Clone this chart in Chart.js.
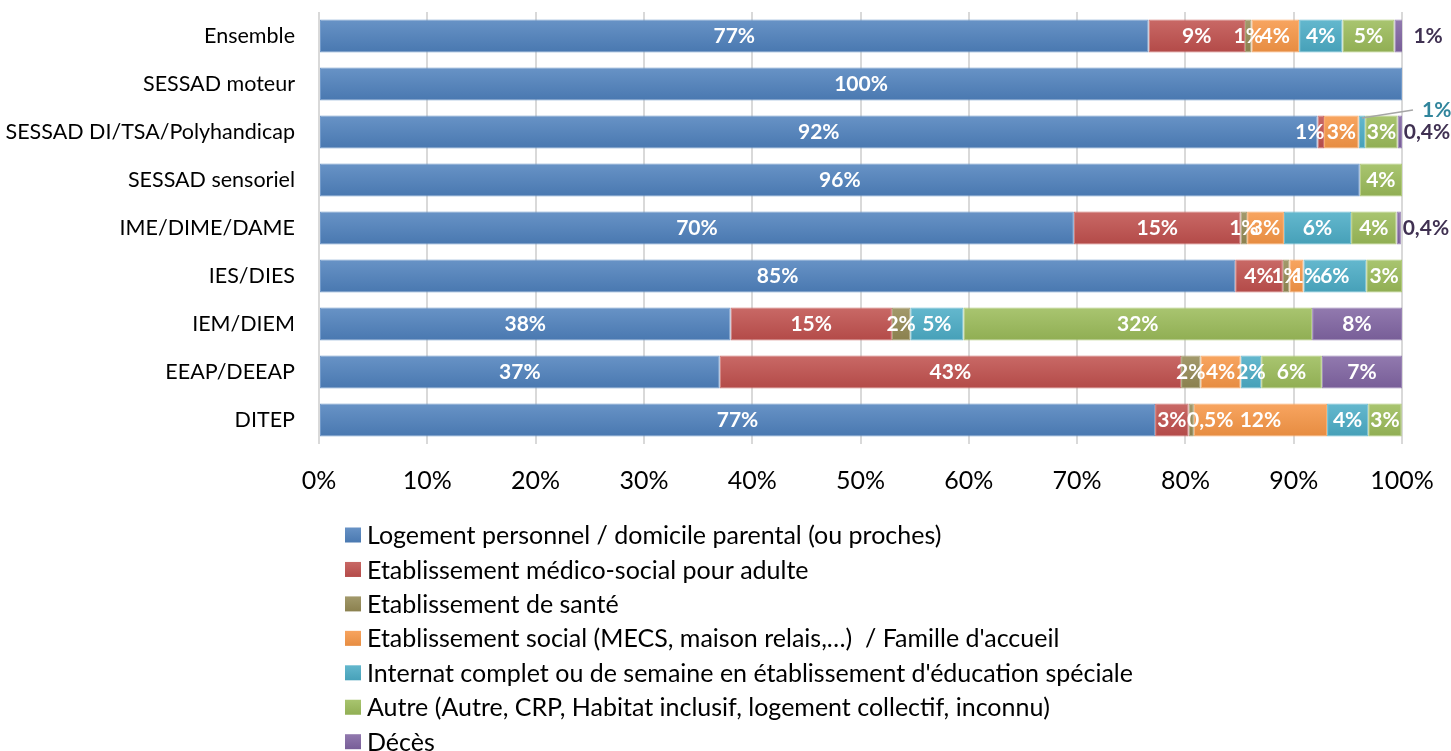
<!DOCTYPE html>
<html lang="fr">
<head>
<meta charset="utf-8">
<title>Mode de logement à la sortie</title>
<script src="https://cdn.jsdelivr.net/npm/chart.js@4.4.1/dist/chart.umd.min.js"></script>
<style>
  html, body { margin: 0; padding: 0; background: #fff; }
  #wrap { position: relative; width: 1451px; height: 751px; }
</style>
</head>
<body>
<div id="wrap"><canvas id="mainChart" width="1451" height="751"></canvas></div>
<script>
const categories = ['Ensemble', 'SESSAD moteur', 'SESSAD DI/TSA/Polyhandicap', 'SESSAD sensoriel',
    'IME/DIME/DAME', 'IES/DIES', 'IEM/DIEM', 'EEAP/DEEAP', 'DITEP'];

const seriesNames = [
    'Logement personnel / domicile parental (ou proches)',
    'Etablissement médico-social pour adulte',
    'Etablissement de santé',
    "Etablissement social (MECS, maison relais,…)  / Famille d'accueil",
    "Internat complet ou de semaine en établissement d'éducation spéciale",
    'Autre (Autre, CRP, Habitat inclusif, logement collectif, inconnu)',
    'Décès'
];
const seriesColors = ['#4f81bd', '#c0504d', '#948a54', '#f79646', '#4bacc6', '#9bbb59', '#8064a2'];

// % par catégorie, dans l'ordre de categories
const logement     = [76.6, 100, 92.2, 96.1, 69.7, 84.6, 38.0, 37.0, 77.2];
const medicoSocial = [8.9, 0, 0.6, 0, 15.4, 4.4, 14.9, 42.6, 3.1];
const sante        = [0.6, 0, 0, 0, 0.6, 0.6, 1.7, 1.8, 0.48];
const social       = [4.4, 0, 3.2, 0, 3.4, 1.3, 0, 3.7, 12.3];
const internat     = [4.0, 0, 0.6, 0, 6.2, 5.8, 4.9, 1.9, 3.8];
const autre        = [4.8, 0, 3.0, 3.9, 4.2, 3.3, 32.2, 5.6, 3.1];
const deces        = [0.8, 0, 0.4, 0, 0.4, 0, 8.3, 7.4, 0];

const seriesValues = [logement, medicoSocial, sante, social, internat, autre, deces];

// label placement tweaks (like the hand-moved labels in the original)
const callouts = [{ dataset: 4, index: 2 }];
const labelNudges = [
    { dataset: 1, index: 2, dx: -11 },
    { dataset: 3, index: 5, dx: 10 },
    { dataset: 2, index: 8, dx: 19 }
];

const BAR_PCT = 0.687;
const FONT = 'Lato, "Open Sans", sans-serif';

function shade(hex, p) {
    const n = parseInt(hex.slice(1), 16);
    let r = n >> 16, g = (n >> 8) & 255, b = n & 255;
    const f = c => p >= 0 ? Math.round(c + (255 - c) * p) : Math.round(c * (1 + p));
    return `rgb(${f(r)},${f(g)},${f(b)})`;
}

function barFill(base) {
    return c => {
        const ys = c.chart.scales.y;
        if (!ys || c.type !== 'data') return base;
        const yc = ys.getPixelForValue(c.dataIndex);
        const step = ys.getPixelForValue(1) - ys.getPixelForValue(0);
        if (!isFinite(yc) || !isFinite(step) || step <= 0) return base;
        const h = step * BAR_PCT / 2;
        const g = c.chart.ctx.createLinearGradient(0, yc - h, 0, yc + h);
        g.addColorStop(0, shade(base, 0.14));
        g.addColorStop(1, shade(base, -0.07));
        return g;
    };
}

function fmt(v) {
    if (v < 0.5) return v.toFixed(1).replace('.', ',') + '%';
    return Math.round(v) + '%';
}

const segmentLabels = {
    id: 'segmentLabels',
    afterDatasetsDraw(chart) {
        const ctx = chart.ctx;
        const last = chart.data.datasets.length - 1;
        ctx.save();
        ctx.font = 'bold 21px ' + FONT;
        ctx.textBaseline = 'middle';
        chart.data.datasets.forEach((ds, di) => {
            const meta = chart.getDatasetMeta(di);
            meta.data.forEach((bar, i) => {
                const v = ds.data[i];
                if (!v) return;
                const { x, base, y } = bar.getProps(['x', 'base', 'y'], true);
                const text = fmt(v);
                const isCallout = callouts.some(c => c.dataset === di && c.index === i);
                const nudge = labelNudges.find(n => n.dataset === di && n.index === i);
                const dx = nudge ? nudge.dx : 0;
                if (isCallout) {
                    const right = chart.chartArea.right;
                    ctx.strokeStyle = '#a6a6a6';
                    ctx.lineWidth = 1.5;
                    ctx.beginPath();
                    ctx.moveTo((x + base) / 2, y - 14);
                    ctx.lineTo(right + 11, y - 22);
                    ctx.stroke();
                    ctx.fillStyle = '#31859c';
                    ctx.textAlign = 'left';
                    ctx.fillText(text, right + 20, y - 22);
                } else if (di === last && v < 2) {
                    ctx.fillStyle = '#403152';
                    ctx.textAlign = 'center';
                    ctx.fillText(text, x + 25, y);
                } else {
                    ctx.fillStyle = '#ffffff';
                    ctx.textAlign = 'center';
                    ctx.fillText(text, (x + base) / 2 + dx, y);
                }
            });
        });
        ctx.restore();
    }
};

const columnLegend = {
    id: 'columnLegend',
    afterDraw(chart) {
        const ctx = chart.ctx;
        ctx.save();
        ctx.font = '25px ' + FONT;
        ctx.textBaseline = 'middle';
        ctx.textAlign = 'left';
        chart.data.datasets.forEach((ds, i) => {
            const cy = 535 + i * 34.45;
            const g = ctx.createLinearGradient(0, cy - 8, 0, cy + 8);
            g.addColorStop(0, shade(seriesColors[i], 0.14));
            g.addColorStop(1, shade(seriesColors[i], -0.07));
            ctx.fillStyle = g;
            ctx.fillRect(345, cy - 7.5, 16, 15);
            ctx.fillStyle = '#000';
            ctx.fillText(ds.label, 367, cy + 1);
        });
        ctx.restore();
    }
};

const mainCtx = document.getElementById('mainChart').getContext('2d');

new Chart(mainCtx, {
    type: 'bar',
    data: {
        labels: categories,
        datasets: seriesNames.map((name, i) => ({
            label: name,
            data: seriesValues[i],
            backgroundColor: barFill(seriesColors[i]),
            borderColor: shade(seriesColors[i], 0.2),
            borderWidth: c => (c.raw ? 1 : 0),
            borderSkipped: false,
            barPercentage: BAR_PCT,
            categoryPercentage: 1
        }))
    },
    options: {
        indexAxis: 'y',
        responsive: false,
        animation: false,
        layout: { padding: { top: 12, right: 49, bottom: 247, left: 0 } },
        scales: {
            x: {
                stacked: true,
                min: 0,
                max: 100,
                afterFit: s => { s.height = 60; s.paddingLeft = 0; s.paddingRight = 0; },
                ticks: {
                    stepSize: 10,
                    padding: 22,
                    color: '#000',
                    font: { family: FONT, size: 25 },
                    callback: v => v + '%'
                },
                grid: { color: '#d9d9d9', lineWidth: 2, drawTicks: false },
                border: { display: false }
            },
            y: {
                stacked: true,
                afterFit: s => { s.width = 319; s.paddingTop = 0; s.paddingBottom = 0; },
                ticks: {
                    padding: 24,
                    color: '#000',
                    font: { family: FONT, size: 21.5 }
                },
                grid: { display: false, drawTicks: false },
                border: { display: false }
            }
        },
        plugins: {
            legend: { display: false },
            tooltip: { enabled: false }
        }
    },
    plugins: [segmentLabels, columnLegend]
});
</script>
</body>
</html>
